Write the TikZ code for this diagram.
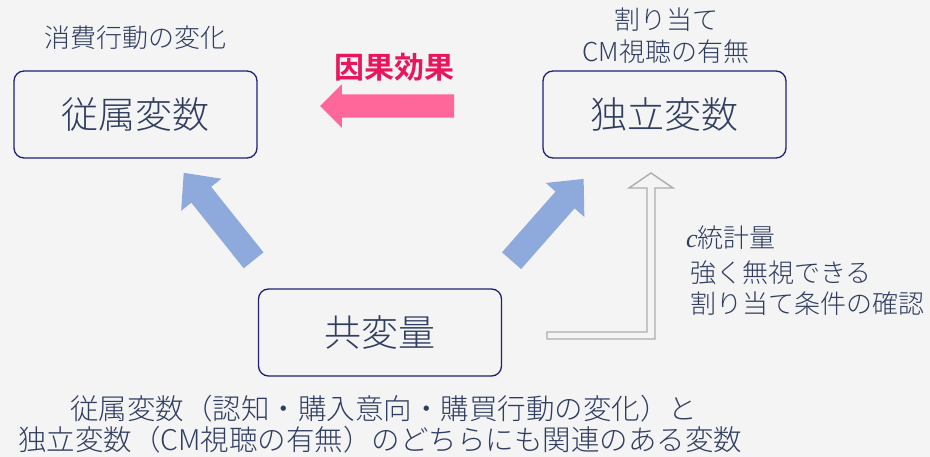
\documentclass[tikz,border=0pt]{standalone}
\usepackage{fontspec}
\setmainfont{Noto Sans CJK JP}[UprightFont=* Light, BoldFont=* Bold]
\newfontfamily\cfont{Liberation Serif}
\usetikzlibrary{shapes.arrows}
\definecolor{bg}{HTML}{F4F4F4}
\definecolor{txt}{HTML}{2F3D60}
\definecolor{boxline}{HTML}{1F1F78}
\definecolor{pinkarrow}{HTML}{FF6699}
\definecolor{pinktext}{HTML}{E8175D}
\definecolor{bluearrow}{HTML}{8EA9DB}
\definecolor{grayline}{HTML}{ADADAD}
\tikzset{
  varbox/.style={draw=boxline, line width=1.3pt, rounded corners=10pt, minimum width=243pt, minimum height=87pt, inner sep=0pt, text=txt, font=\fontsize{37}{40}\selectfont},
  lbl/.style={text=txt, inner sep=0pt, font=\fontsize{26}{30}\selectfont},
  bottomtxt/.style={text=txt, inner sep=0pt, anchor=west, font=\fontsize{28.5}{32}\selectfont},
  blockarrow/.style={single arrow, inner sep=0pt, text width=0pt, single arrow head indent=0pt, draw=none}
}
\begin{document}
\begin{tikzpicture}[x=1pt,y=-1pt]
\path[use as bounding box, fill=bg] (0,0) rectangle (930,457);
% boxes
\node[varbox] (dep) at (135.5,114.5) {従属変数};
\node[varbox] (ind) at (664.5,114.5) {独立変数};
\node[varbox] (cov) at (380,332.5) {共変量};
% labels
\node[lbl] (deplbl) at (136,38) {消費行動の変化};
\node[lbl] (indlbl1) at (666,20) {割り当て};
\node[lbl] (indlbl2) at (666,52) {CM視聴の有無};
\node[text=pinktext, inner sep=0pt, font=\fontsize{30}{32}\selectfont\bfseries] (causal) at (394,67) {因果効果};
% pink arrow
\node[blockarrow, fill=pinkarrow, minimum height=134pt, text height=11.5pt, text depth=11.5pt, single arrow head extend=10pt, single arrow tip angle=90, rotate=180] (pinkarr) at (393,106) {};
% blue arrows
\node[blockarrow, fill=bluearrow, minimum height=112pt, text height=12.5pt, text depth=12.5pt, single arrow head extend=13pt, single arrow tip angle=85, rotate=128.6] (bluel) at (223,222) {};
\node[blockarrow, fill=bluearrow, minimum height=109pt, text height=12.5pt, text depth=12.5pt, single arrow head extend=13pt, single arrow tip angle=85, rotate=48.6] (bluer) at (543,225) {};
% gray hollow L arrow
\coordinate (gtip) at (651,173);
\draw[grayline, line width=1.4pt, fill=bg, line join=miter]
  (547,332) -- (647,332) -- (647,188) -- (629,188) -- (gtip) -- (673,188) -- (655,188) -- (655,339) -- (547,339) -- cycle;
% c statistic text
\node[lbl, anchor=west] (cstat) at (686,238) {{\cfont\itshape c}統計量};
\node[lbl, anchor=west] (ignor) at (690,273) {強く無視できる};
\node[lbl, anchor=west] (assign) at (690,304) {割り当て条件の確認};
% bottom text
\node[bottomtxt] (desc1) at (70,409) {従属変数（認知・購入意向・購買行動の変化）と};
\node[bottomtxt] (desc2) at (18,440) {独立変数（CM視聴の有無）のどちらにも関連のある変数};
\end{tikzpicture}
\end{document}
